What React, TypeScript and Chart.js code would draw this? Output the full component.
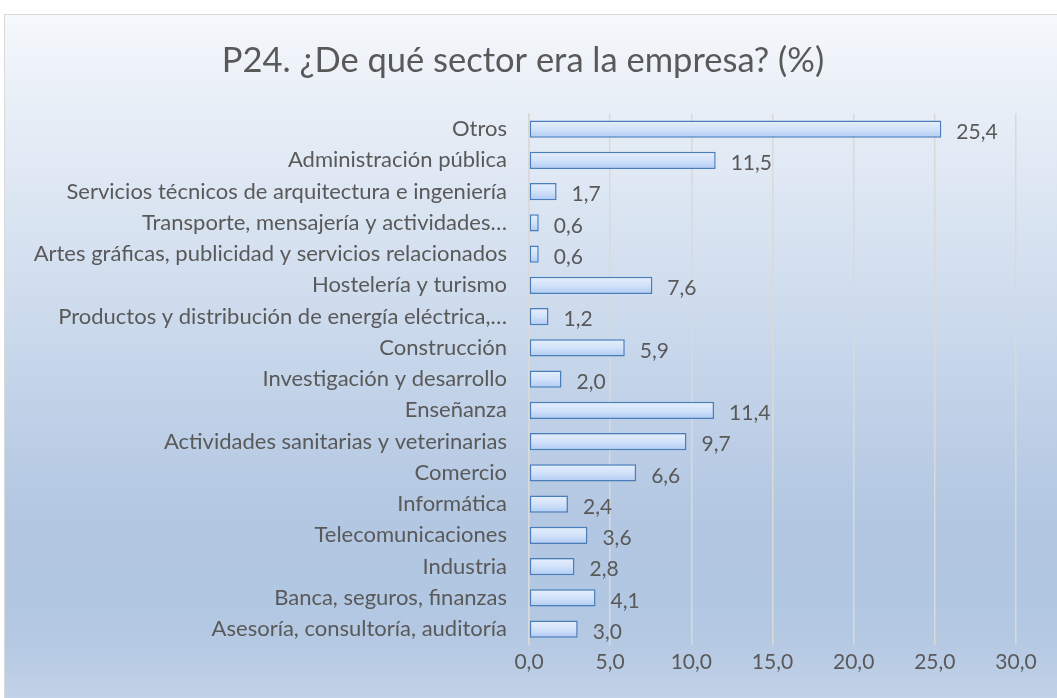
import React, { useEffect, useRef } from "react";
import { Chart, registerables } from "chart.js";

Chart.register(...registerables);

const categories = [
  "Otros",
  "Administración pública",
  "Servicios técnicos de arquitectura e ingeniería",
  "Transporte, mensajería y actividades…",
  "Artes gráficas, publicidad y servicios relacionados",
  "Hostelería y turismo",
  "Productos y distribución de energía eléctrica,…",
  "Construcción",
  "Investigación y desarrollo",
  "Enseñanza",
  "Actividades sanitarias y veterinarias",
  "Comercio",
  "Informática",
  "Telecomunicaciones",
  "Industria",
  "Banca, seguros, finanzas",
  "Asesoría, consultoría, auditoría",
];

const values = [25.4, 11.5, 1.7, 0.6, 0.6, 7.6, 1.2, 5.9, 2.0, 11.4, 9.7, 6.6, 2.4, 3.6, 2.8, 4.1, 3.0];

const titleText = "P24. ¿De qué sector era la empresa? (%)";
const FONT = "Lato, 'Liberation Sans', sans-serif";

const fmt = (v: number) => v.toFixed(1).replace(".", ",");

const barGradientPlugin = {
  id: "barGradient",
  beforeDatasetsDraw(chart: any) {
    const ctx = chart.ctx;
    const meta = chart.getDatasetMeta(0);
    meta.data.forEach((bar: any) => {
      const h = bar.height;
      const top = bar.y - h / 2;
      const g = ctx.createLinearGradient(0, top, 0, top + h);
      g.addColorStop(0, "#e6effc");
      g.addColorStop(0.5, "#d2e2fa");
      g.addColorStop(1, "#b0cbf4");
      bar.options = { ...bar.options, backgroundColor: g };
    });
  },
};

const dataLabelPlugin = {
  id: "dataLabels",
  afterDatasetsDraw(chart: any) {
    const ctx = chart.ctx;
    const meta = chart.getDatasetMeta(0);
    ctx.save();
    ctx.font = `21px ${FONT}`;
    ctx.fillStyle = "#595959";
    ctx.textAlign = "left";
    ctx.textBaseline = "middle";
    meta.data.forEach((bar: any, i: number) => {
      ctx.fillText(fmt(values[i]), bar.x + 15, bar.y + 3);
    });
    ctx.restore();
  },
};

export default function App() {
  const ref = useRef<HTMLCanvasElement>(null);
  useEffect(() => {
    if (!ref.current) return;
    const chart = new Chart(ref.current, {
      type: "bar",
      data: {
        labels: categories,
        datasets: [
          {
            data: values,
            backgroundColor: "#cddff8",
            borderColor: "#4a7ebb",
            borderWidth: 1.5,
            borderSkipped: false,
            barPercentage: 0.55,
            categoryPercentage: 1,
          },
        ],
      },
      options: {
        indexAxis: "y",
        animation: false,
        responsive: false,
        maintainAspectRatio: false,
        layout: { padding: { top: 0, right: 41, bottom: 18, left: 30 } },
        plugins: {
          legend: { display: false },
          tooltip: { enabled: false },
          title: {
            display: true,
            text: titleText,
            color: "#595959",
            font: { family: FONT, size: 34.5, weight: "normal" },
            padding: { top: 40, bottom: 32 },
          },
        },
        scales: {
          x: {
            min: 0,
            max: 30,
            ticks: {
              stepSize: 5,
              color: "#595959",
              font: { family: FONT, size: 21 },
              padding: 5,
              callback: (v: any) => fmt(Number(v)),
            },
            grid: { color: "#d9d9d9", lineWidth: 1.5, drawTicks: false },
            border: { display: false },
          },
          y: {
            ticks: {
              color: "#595959",
              font: { family: FONT, size: 22 },
              padding: 22,
              autoSkip: false,
            },
            grid: { display: false, drawTicks: false },
            border: { display: true, color: "#d9d9d9", width: 1.5 },
            afterFit: (scale: any) => {
              scale.width = 499;
            },
          },
        },
      },
      plugins: [barGradientPlugin, dataLabelPlugin],
    });
    return () => chart.destroy();
  }, []);

  return (
    <div style={{ position: "absolute", left: 0, top: 0, width: 1057, height: 698, overflow: "hidden", background: "#ffffff" }}>
      <div
        style={{
          position: "absolute",
          left: 4,
          top: 14,
          width: 1070,
          height: 700,
          boxSizing: "border-box",
          border: "1.5px solid #d9d9d9",
          background:
            "linear-gradient(to bottom, #f5f8fc 0px, #e6edf6 106px, #d5e1f0 236px, #c1d2e8 386px, #b3c7e2 506px, #b2c7e2 590px, #b5c9e3 626px, #c2d2e8 684px)",
        }}
      />
      <canvas ref={ref} width={1057} height={698} style={{ position: "absolute", left: 0, top: 0, width: 1057, height: 698 }} />
    </div>
  );
}
